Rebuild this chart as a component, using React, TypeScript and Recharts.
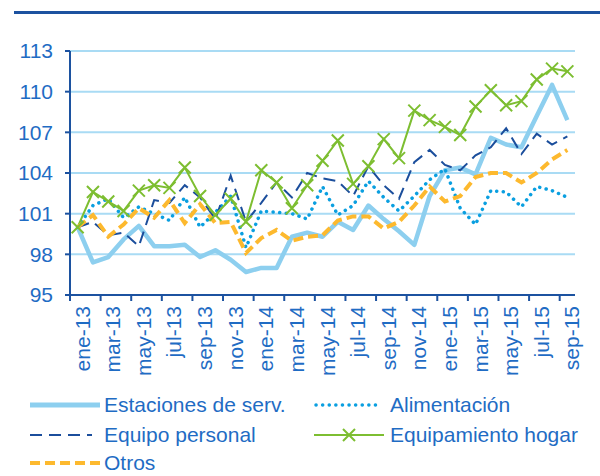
import React from 'react';
import { LineChart, Line, XAxis, YAxis, CartesianGrid } from 'recharts';

// monthly index, ene-13 = 100
const MONTHS = [
  'ene-13', 'feb-13', 'mar-13', 'abr-13', 'may-13', 'jun-13', 'jul-13', 'ago-13', 'sep-13', 'oct-13', 'nov-13', 'dic-13',
  'ene-14', 'feb-14', 'mar-14', 'abr-14', 'may-14', 'jun-14', 'jul-14', 'ago-14', 'sep-14', 'oct-14', 'nov-14', 'dic-14',
  'ene-15', 'feb-15', 'mar-15', 'abr-15', 'may-15', 'jun-15', 'jul-15', 'ago-15', 'sep-15',
];
const ESTACIONES = [100.0, 97.4, 97.8, 99.1, 100.1, 98.6, 98.6, 98.7, 97.8, 98.3, 97.6, 96.7, 97.0, 97.0, 99.3, 99.6, 99.3, 100.4, 99.8, 101.6, 100.6, 99.7, 98.7, 102.3, 104.2, 104.4, 103.9, 106.6, 106.1, 105.9, 108.2, 110.5, 107.9];
const ALIMENTACION = [100.0, 101.6, 102.1, 100.7, 101.5, 101.0, 100.5, 102.2, 100.0, 101.1, 102.3, 98.5, 101.2, 101.1, 101.0, 100.6, 103.0, 100.9, 101.6, 103.4, 102.2, 101.2, 102.3, 103.5, 104.3, 101.4, 100.2, 102.7, 102.6, 101.5, 103.0, 102.7, 102.2];
const EQUIPO = [100.0, 100.4, 99.4, 99.6, 98.6, 102.0, 101.8, 103.1, 102.2, 100.6, 103.8, 100.4, 101.8, 103.3, 102.2, 104.0, 103.6, 103.4, 102.3, 104.5, 103.1, 102.1, 104.8, 105.7, 104.6, 104.2, 105.3, 105.9, 107.3, 105.4, 106.9, 106.1, 106.7];
const HOGAR = [100.0, 102.6, 101.9, 101.2, 102.7, 103.1, 102.9, 104.4, 102.3, 100.9, 102.1, 100.4, 104.2, 103.3, 101.4, 103.1, 104.9, 106.4, 103.2, 104.5, 106.5, 105.1, 108.6, 107.9, 107.4, 106.8, 108.9, 110.1, 109.0, 109.3, 110.9, 111.7, 111.5];
const OTROS = [100.0, 100.9, 99.3, 100.2, 101.4, 100.7, 102.0, 100.3, 101.7, 100.3, 100.4, 98.1, 99.2, 99.8, 99.0, 99.3, 99.4, 100.5, 100.8, 100.8, 99.9, 100.4, 101.6, 103.0, 101.9, 102.3, 103.7, 104.0, 104.0, 103.3, 104.0, 105.0, 105.7];
const Y_TICKS = [95, 98, 101, 104, 107, 110, 113];

const FONT = '"Liberation Sans", Arial, sans-serif';
const FS = 21;
const TEXT = '#1F6CC4';
const AXIS = '#1C52A0';
const GRID = '#A9DBF4';
const C = {
  estaciones: '#8DCFEF',
  alimentacion: '#0A9FE0',
  equipo: '#1B4E9C',
  hogar: '#7DBE31',
  otros: '#FDB92E',
};

const data = MONTHS.map((m, i) => ({
  m,
  estaciones: ESTACIONES[i],
  alimentacion: ALIMENTACION[i],
  equipo: EQUIPO[i],
  hogar: HOGAR[i],
  otros: OTROS[i],
}));

// half a category band (plot is 505px wide for 33 months)
const HALF = 505 / 33 / 2;

const XTick = (props: any) => {
  const { x, y, payload } = props;
  return (
    <g>
      <line x1={x - HALF} x2={x - HALF} y1={y} y2={y + 6} stroke={AXIS} strokeWidth={2} />
      <text
        transform={`translate(${x + 12},${y + 11}) rotate(-90)`}
        textAnchor="end"
        fill={TEXT}
        fontSize={FS}
        fontFamily={FONT}
      >
        {payload.value}
      </text>
    </g>
  );
};

const Cross = (props: any) => {
  const { cx, cy } = props;
  const s = 6;
  return (
    <path
      key={`x-${cx}`}
      d={`M${cx - s},${cy - s}L${cx + s},${cy + s}M${cx - s},${cy + s}L${cx + s},${cy - s}`}
      stroke={C.hogar}
      strokeWidth={2}
      fill="none"
    />
  );
};

const LegendItem = ({ left, top, label, sample }: { left: number; top: number; label: string; sample: React.ReactNode }) => (
  <div style={{ position: 'absolute', left, top, display: 'flex', alignItems: 'center', height: 26 }}>
    <svg width={76} height={26}>{sample}</svg>
    <span style={{ color: TEXT, fontSize: FS, fontFamily: FONT, whiteSpace: 'nowrap' }}>{label}</span>
  </div>
);

export default function App() {
  return (
    <div style={{ position: 'relative', width: 600, height: 476, background: '#fff', overflow: 'hidden' }}>
      <style>{`body{margin:0}`}</style>
      <div style={{ position: 'absolute', left: 14, top: 11, width: 586, height: 3, background: AXIS }} />
      <div style={{ position: 'absolute', left: 0, top: 0 }}>
        <LineChart width={600} height={476} data={data} margin={{ top: 51, right: 25, left: 0, bottom: 91 }}>
          <CartesianGrid vertical={false} stroke={GRID} strokeWidth={2} />
          <XAxis
            dataKey="m"
            interval={1}
            height={90}
            padding={{ left: HALF, right: HALF }}
            axisLine={{ stroke: AXIS, strokeWidth: 2 }}
            tickLine={false}
            tickSize={0}
            tickMargin={0}
            tick={<XTick />}
          />
          <YAxis
            domain={[95, 113]}
            ticks={Y_TICKS}
            width={70}
            interval={0}
            axisLine={{ stroke: AXIS, strokeWidth: 2 }}
            tickLine={{ stroke: AXIS, strokeWidth: 2 }}
            tickSize={5}
            tickMargin={12}
            tick={{ fill: TEXT, fontSize: FS, fontFamily: FONT }}
          />
          <Line
            dataKey="estaciones"
            stroke={C.estaciones}
            strokeWidth={4.5}
            strokeLinejoin="round"
            dot={false}
            isAnimationActive={false}
          />
          <Line
            dataKey="alimentacion"
            stroke={C.alimentacion}
            strokeWidth={3.5}
            strokeDasharray="0.1 6.5"
            strokeLinecap="round"
            dot={false}
            isAnimationActive={false}
          />
          <Line
            dataKey="equipo"
            stroke={C.equipo}
            strokeWidth={2}
            strokeDasharray="12 7"
            dot={false}
            isAnimationActive={false}
          />
          <Line
            dataKey="hogar"
            stroke={C.hogar}
            strokeWidth={2}
            dot={<Cross />}
            isAnimationActive={false}
          />
          <Line
            dataKey="otros"
            stroke={C.otros}
            strokeWidth={4}
            strokeDasharray="10 5"
            dot={false}
            isAnimationActive={false}
          />
        </LineChart>
      </div>

      <LegendItem
        left={28}
        top={392}
        label="Estaciones de serv."
        sample={<line x1={2} x2={72} y1={13} y2={13} stroke={C.estaciones} strokeWidth={5} />}
      />
      <LegendItem
        left={314}
        top={392}
        label="Alimentación"
        sample={<line x1={2} x2={64} y1={13} y2={13} stroke={C.alimentacion} strokeWidth={3.5} strokeDasharray="0.1 6.5" strokeLinecap="round" />}
      />
      <LegendItem
        left={28}
        top={422}
        label="Equipo personal"
        sample={<line x1={2} x2={64} y1={13} y2={13} stroke={C.equipo} strokeWidth={2} strokeDasharray="12 7" />}
      />
      <LegendItem
        left={314}
        top={422}
        label="Equipamiento hogar"
        sample={
          <g>
            <line x1={0} x2={70} y1={13} y2={13} stroke={C.hogar} strokeWidth={2} />
            <path d="M29,7L41,19M29,19L41,7" stroke={C.hogar} strokeWidth={2} />
          </g>
        }
      />
      <LegendItem
        left={28}
        top={450}
        label="Otros"
        sample={<line x1={2} x2={72} y1={13} y2={13} stroke={C.otros} strokeWidth={4} strokeDasharray="10 5" />}
      />
    </div>
  );
}
